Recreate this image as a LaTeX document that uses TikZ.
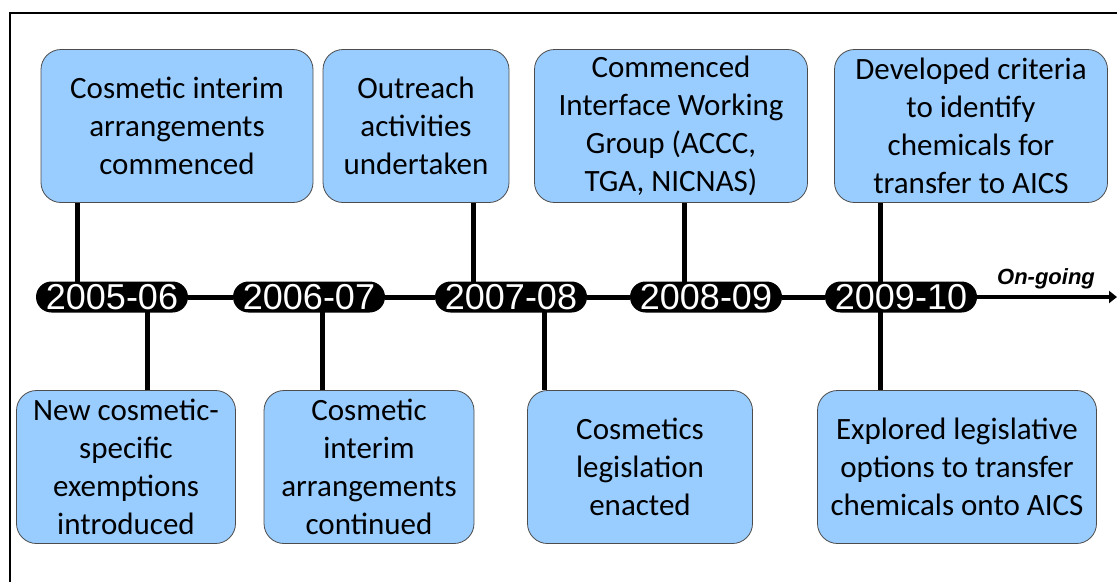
\documentclass[tikz,border=0pt]{standalone}
\usepackage{fontspec}
\setmainfont{Carlito}
\newfontfamily\yearfont{Liberation Sans}
\usetikzlibrary{positioning,arrows.meta}
\definecolor{eventblue}{RGB}{153,204,255}

\begin{document}
\begin{tikzpicture}[x=1pt,y=-1pt,>=Triangle,
		event/.style={draw=black!70,line width=0.8pt,rounded corners=20pt,fill=eventblue,
			align=center,inner sep=0pt,minimum height=153pt,
			font=\fontsize{31}{38}\selectfont},
		year/.style={fill=black,rounded corners=15.5pt,minimum width=152pt,minimum height=31pt,
			inner sep=0pt,text=white,font=\yearfont\fontsize{36}{36}\selectfont},
		stem/.style={line width=5pt},
		]
		\useasboundingbox (0,0) rectangle (1117,582);
		
		% frame
		\draw[line width=2pt] (10,582) -- (10,13) -- (1117,13);
		
		% top events
		\node[event,minimum width=272pt] (ev1) at (177,126)
		{Cosmetic interim\\arrangements\\commenced};
		\node[event,minimum width=186pt] (ev2) at (416,126)
		{Outreach\\activities\\undertaken};
		\node[event,minimum width=273pt] (ev3) at (671,126)
		{Commenced\\Interface Working\\Group (ACCC,\\TGA, NICNAS)};
		\node[event,minimum width=273pt] (ev4) at (971,126)
		{Developed criteria\\to identify\\chemicals for\\transfer to AICS};
		
		% bottom events
		\node[event,minimum width=219pt] (ev5) at (126,467)
		{New cosmetic-\\specific\\exemptions\\introduced};
		\node[event,minimum width=210pt] (ev6) at (369,467)
		{Cosmetic\\interim\\arrangements\\continued};
		\node[event,minimum width=225pt] (ev7) at (640,467)
		{Cosmetics\\legislation\\enacted};
		\node[event,minimum width=279pt] (ev8) at (957,467)
		{Explored legislative\\options to transfer\\chemicals onto AICS};
		
		% stem points on the timeline
		\coordinate (s1) at (77,297);
		\coordinate (s2) at (473,297);
		\coordinate (s3) at (684,297);
		\coordinate (s4) at (880,297);
		\coordinate (s5) at (147,297);
		\coordinate (s6) at (322,297);
		\coordinate (s7) at (544,297);
		\coordinate (s8) at (880,297);
		\coordinate (tend) at (1117,297);
		
		\draw[stem] (ev1.south -| s1) -- (s1);
		\draw[stem] (ev2.south -| s2) -- (s2);
		\draw[stem] (ev3.south -| s3) -- (s3);
		\draw[stem] (ev4.south -| s4) -- (s4);
		\draw[stem] (ev5.north -| s5) -- (s5);
		\draw[stem] (ev6.north -| s6) -- (s6);
		\draw[stem] (ev7.north -| s7) -- (s7);
		\draw[stem] (ev8.north -| s8) -- (s8);
		
		% years
		\node[year] (y1) at (112,297) {2005-06};
		\node[year] (y2) at (309,297) {2006-07};
		\node[year] (y3) at (511,297) {2007-08};
		\node[year] (y4) at (706,297) {2008-09};
		\node[year] (y5) at (901,297) {2009-10};
		
		\draw[stem] (y1) -- (y2);
		\draw[stem] (y2) -- (y3);
		\draw[stem] (y3) -- (y4);
		\draw[stem] (y4) -- (y5);
		\draw[line width=4pt,-{Triangle[length=8pt,width=12pt]}] (y5) -- (tend);
		
		\node[font=\yearfont\bfseries\itshape\fontsize{22}{22}\selectfont,anchor=south] (go) at (1046,293) {On-going};
		
	\end{tikzpicture}
\end{document}
